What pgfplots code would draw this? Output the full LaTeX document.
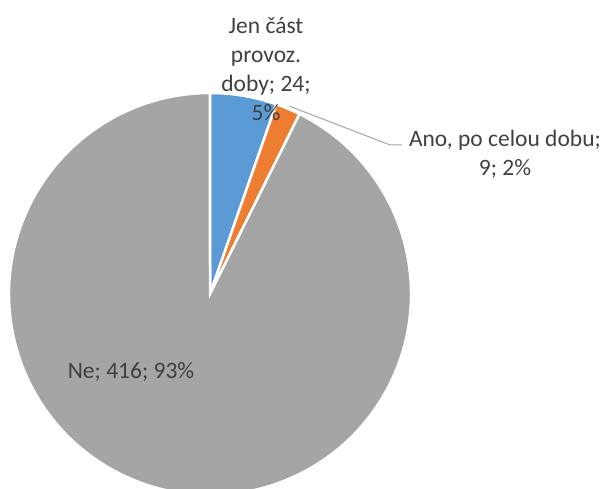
\documentclass[border=0pt]{standalone}
\usepackage{fontspec}
\setmainfont{Carlito}
\usepackage{pgfplots}
\usepackage{pgfplotstable}
\pgfplotsset{compat=1.18}
\definecolor{cBlue}{HTML}{5B9BD5}
\definecolor{cOrange}{HTML}{ED7D31}
\definecolor{cGray}{HTML}{A5A5A5}
\definecolor{cText}{HTML}{404040}
\definecolor{cLine}{HTML}{A6A6A6}
\pgfplotstableread{
label value
Jen 24
Ano 9
Ne 416
}\piedata
\begin{document}
\begin{tikzpicture}
\pgfplotstablegetelem{0}{value}\of\piedata \let\vA\pgfplotsretval
\pgfplotstablegetelem{1}{value}\of\piedata \let\vB\pgfplotsretval
\pgfplotstablegetelem{2}{value}\of\piedata \let\vC\pgfplotsretval
\pgfmathsetmacro{\tot}{\vA+\vB+\vC}
\pgfmathsetmacro{\aA}{90-\vA/\tot*360}
\pgfmathsetmacro{\aB}{\aA-\vB/\tot*360}
\pgfmathsetmacro{\aC}{\aB-\vC/\tot*360}
\begin{axis}[
  width=605pt, height=489pt, scale only axis,
  xmin=0, xmax=605, ymin=0, ymax=489,
  at={(0pt,0pt)}, anchor=origin,
  hide axis, clip=true,
]
\def\cx{210}\def\cy{195}\def\R{201pt}
\fill[cBlue, draw=white, line width=2.5pt] (axis cs:\cx,\cy) -- ++(90:\R) arc[start angle=90, end angle=\aA, radius=\R] -- cycle;
\fill[cOrange, draw=white, line width=2.5pt] (axis cs:\cx,\cy) -- ++(\aA:\R) arc[start angle=\aA, end angle=\aB, radius=\R] -- cycle;
\fill[cGray, draw=white, line width=2.5pt] (axis cs:\cx,\cy) -- ++(\aB:\R) arc[start angle=\aB, end angle=\aC, radius=\R] -- cycle;
\addplot[cLine, line width=1pt, mark=none] coordinates {(289,383) (390,344) (402,344)};
\node[text=cText, font=\fontsize{23.5}{29}\selectfont, align=center] at (axis cs:266,420) {Jen část\\provoz.\\doby; 24;\\5\%};
\node[text=cText, font=\fontsize{23.5}{29}\selectfont, align=center] at (axis cs:505,335) {Ano, po celou dobu;\\9; 2\%};
\node[text=cText, font=\fontsize{23.5}{29}\selectfont, align=center] at (axis cs:131,117) {Ne; 416; 93\%};
\end{axis}
\pgfresetboundingbox
\useasboundingbox (0pt,0pt) rectangle (605pt,489pt);
\end{tikzpicture}
\end{document}
